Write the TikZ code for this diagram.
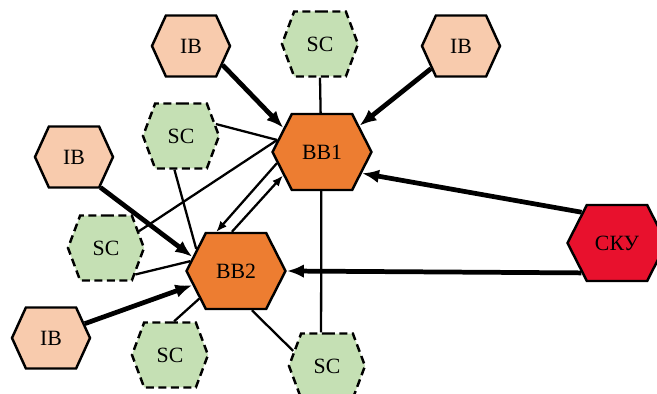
\documentclass[tikz,border=0pt]{standalone}
\usepackage{fontspec}
\setmainfont{Liberation Serif}
\usepackage{tikz}
\usetikzlibrary{shapes.symbols,arrows.meta}
\definecolor{ibpeach}{RGB}{248,203,173}
\definecolor{scgreen}{RGB}{197,224,180}
\definecolor{bborange}{RGB}{237,125,49}
\definecolor{skured}{RGB}{232,17,45}

\begin{document}
\begin{tikzpicture}[x=0.02cm, y=-0.02cm,
    hexbase/.style={shape=signal, signal to=east and west, draw, line width=1.4pt,
        inner sep=0pt, font=\fontsize{12.4}{14}\selectfont},
    ibhex/.style={hexbase, fill=ibpeach, minimum width=1.56cm, minimum height=1.22cm, signal pointer angle=131},
    schex/.style={hexbase, fill=scgreen, dash pattern=on 4.5pt off 2.6pt, minimum width=1.52cm, minimum height=1.3cm, signal pointer angle=139},
    bbhex/.style={hexbase, fill=bborange, minimum width=1.98cm, minimum height=1.52cm, signal pointer angle=126},
    skuhex/.style={bbhex, fill=skured},
    feed/.style={-{Latex[length=0.34cm, width=0.27cm]}, line width=2.7pt},
    flow/.style={-{Latex[length=0.22cm, width=0.17cm]}, line width=1.3pt},
    link/.style={line width=1.3pt}]
        \clip (0,0) rectangle (657,394);

        % Banks
        \node[bbhex] (bb1) at (322,152) {BB1};
        \node[bbhex] (bb2) at (236,271) {BB2};
        \node[skuhex] (sku) at (617,243) {СКУ};

        % IB nodes
        \node[ibhex] (ib1) at (191,46) {IB};
        \node[ibhex] (ib2) at (461,46) {IB};
        \node[ibhex] (ib3) at (74,157) {IB};
        \node[ibhex] (ib4) at (51,338) {IB};

        % SC nodes
        \node[schex] (sc1) at (320,44) {SC};
        \node[schex] (sc2) at (181,136) {SC};
        \node[schex] (sc3) at (106,248) {SC};
        \node[schex] (sc4) at (170,355) {SC};
        \node[schex] (sc5) at (327,366) {SC};

        % Thin links
        \draw[link] (sc1.-90) -- (bb1.92);
        \draw[link] (sc2.19) -- (bb1.165);
        \draw[link] (sc2.259) -- (bb2.151);
        \draw[link] (sc3.27) -- (bb1.165);
        \draw[link] (sc3.-42) -- (bb2.168);
        \draw[link] (sc4.83) -- (bb2.217);
        \draw[link] (sc5.156) -- (bb2.-68);
        \draw[link] (sc5.100) -- (bb1.-91);

        % Between banks
        \draw[flow] (bb1.194) -- (bb2.117);
        \draw[flow] (bb2.96) -- (bb1.211);

        % Thick arrows
        \draw[feed] (ib1.-31) -- (bb1.148);
        \draw[feed] (ib2.217) -- (bb1.35);
        \draw[feed] (ib3.-49) -- (bb2.162);
        \draw[feed] (ib4.23) -- (bb2.198);
        \draw[feed] (sku.139) -- (bb1.-28);
        \draw[feed] (sku.220) -- (bb2.east);
    \end{tikzpicture}
\end{document}
